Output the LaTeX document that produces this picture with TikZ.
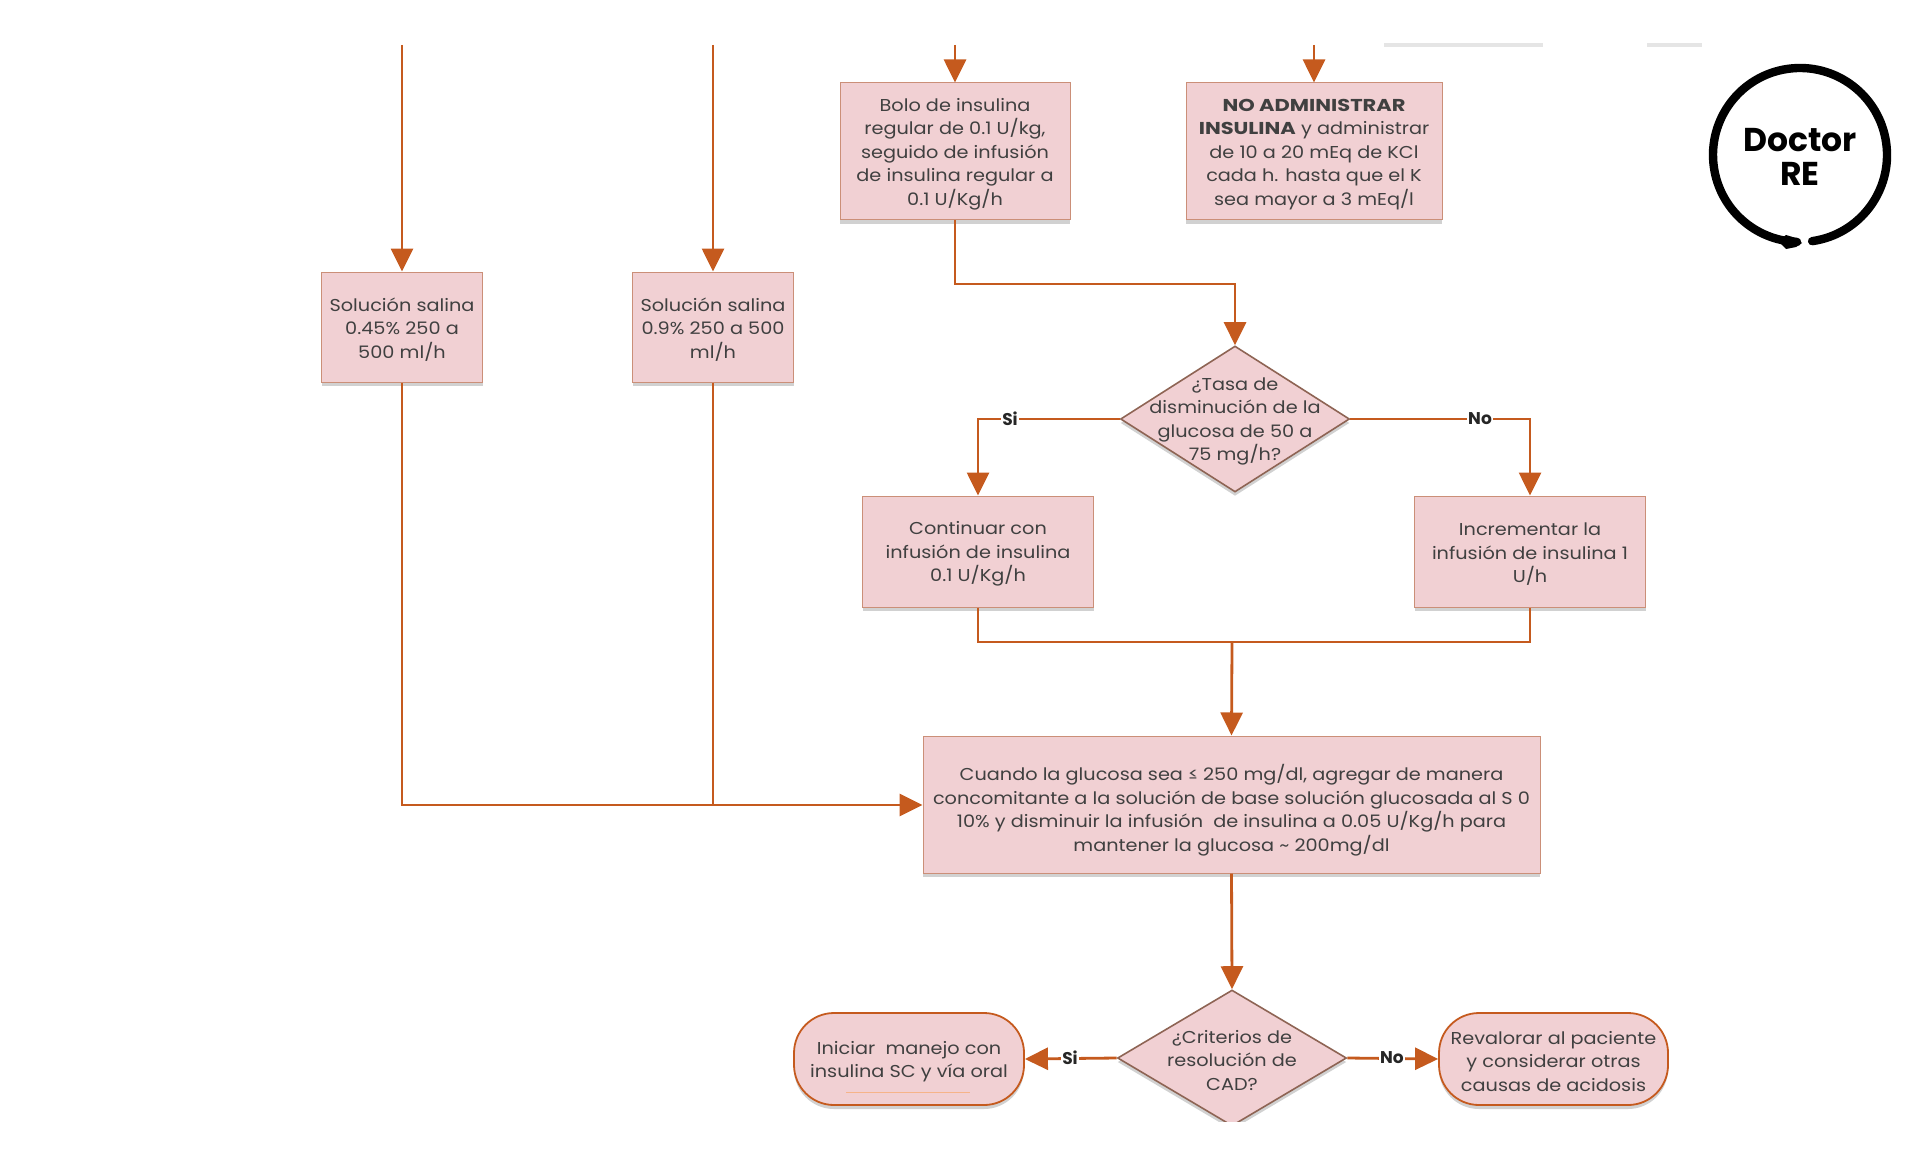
\documentclass[tikz,border=0pt]{standalone}
\usepackage{fontspec}
\setmainfont[FakeStretch=1.12,BoldFeatures={FakeStretch=1.22}]{Poppins}
\newfontfamily\plainpop{Poppins}
\usetikzlibrary{arrows.meta,shapes.geometric,shadows}
\newcommand{\lft}{\rule{0pt}{9pt}}
\newcommand{\lftb}{\rule{0pt}{14pt}}
\definecolor{boxfill}{HTML}{F1D0D3}
\definecolor{boxline}{HTML}{CB8F78}
\definecolor{flow}{HTML}{C55A1E}
\definecolor{ink}{HTML}{404040}
\tikzset{
  x=0.5pt,y=-0.5pt,
  softshadow/.style={drop shadow={shadow xshift=0pt,shadow yshift=-2pt,opacity=.3,fill=black!60}},
  txt/.style={font=\fontsize{8.6}{11.75}\selectfont,text=ink,align=center},
  pbox/.style 2 args={draw=boxline,line width=.5pt,fill=boxfill,softshadow,inner sep=0pt,
    minimum width=#1*0.5pt,minimum height=#2*0.5pt,txt},
  term/.style 2 args={pbox={#1}{#2},draw=flow,line width=.9pt,rounded corners=20pt},
  decide/.style 2 args={diamond,draw=boxline!70!black,line width=.8pt,fill=boxfill,softshadow,inner sep=0pt,
    minimum width=#1*0.5pt,minimum height=#2*0.5pt},
  conn/.style={draw=flow,line width=1.4pt},
  arr/.style={conn,-{Triangle[length=11.5pt,width=11pt]}},
  tag/.style={font=\plainpop\fontsize{8.5}{10}\selectfont\bfseries,text=black!85,fill=white,inner sep=.6pt},
}
\begin{document}
\begin{tikzpicture}
\useasboundingbox (0,0) rectangle (1920,1166);

% free ends at the cut top edge
\coordinate (t1) at (402,45);
\coordinate (t2) at (713,45);
\coordinate (t3) at (955,45);
\coordinate (t4) at (1314,45);
\coordinate (j1) at (1235,284);
\coordinate (j2) at (1232,642);
\coordinate (j3) at (713,805);
\coordinate (j4) at (402,805);

% faint smears along the cut edge
\fill[black!10] (1384,43.5) rectangle (1543,47);
\fill[black!10] (1647,43.5) rectangle (1702,47);

\node[pbox={230}{137}] (bolo) at (955,151.5) {\lft Bolo de insulina\\regular de 0.1 U/kg,\\seguido de infusión\\de insulina regular a\\0.1 U/Kg/h};
\node[pbox={256}{137}] (noadm) at (1314,151.5) {\lft\textbf{NO ADMINISTRAR}\\\textbf{INSULINA} y administrar\\de 10 a 20 mEq de KCl\\cada h. hasta que el K\\sea mayor a 3 mEq/l};
\node[pbox={161}{110}] (sal1) at (402,327) {\lft Solución salina\\0.45\% 250 a\\500 ml/h};
\node[pbox={161}{110}] (sal2) at (713,327) {\lft Solución salina\\0.9\% 250 a 500\\ml/h};
\node[decide={229}{146},label={[txt]center:\lft ¿Tasa de\\disminución de la\\glucosa de 50 a\\75 mg/h?}] (d1) at (1235,419) {};
\node[pbox={231}{111}] (cont) at (978,551.5) {\lft Continuar con\\infusión de insulina\\0.1 U/Kg/h};
\node[pbox={231}{111}] (incr) at (1530,551.5) {\lft Incrementar la\\infusión de insulina 1\\U/h};
\node[pbox={617}{137}] (cuando) at (1231.5,804.5) {\lftb Cuando la glucosa sea ≤ 250 mg/dl, agregar de manera\\concomitante a la solución de base solución glucosada al S 0\\10\% y disminuir la infusión\ \ de insulina a 0.05 U/Kg/h para\\mantener la glucosa \textasciitilde\ 200mg/dl};
\node[decide={229}{136},label={[txt]center:\lft ¿Criterios de\\resolución de\\CAD?}] (d2) at (1232,1058) {};
\node[term={230}{92}] (ini) at (909,1059) {\lft Iniciar\ \ manejo con\\insulina SC y vía oral};
\node[term={229}{92}] (rev) at (1553.5,1059) {\lft Revalorar al paciente\\y considerar otras\\causas de acidosis};

% pale mark under the text of the left terminator
\draw[draw=orange!35!boxfill,line width=.5pt] (846,1092) -- (970,1092);

% cut the lower diamond at the page edge of the source
\fill[white] (1100,1122) rectangle (1360,1140);

\draw[arr] (t1) -- (sal1.north);
\draw[arr] (t2) -- (sal2.north);
\draw[arr] (t3) -- (bolo.north);
\draw[arr] (t4) -- (noadm.north);
\draw[arr] (bolo.south) |- (j1) -- (d1.north);
\draw[arr] (d1.west) -| (cont.north);
\draw[arr] (d1.east) -| (incr.north);
\draw[conn] (cont.south) |- (j2) -| (incr.south);
\draw[arr] (j2) -- (cuando.north);
\draw[conn] (sal1.south) -- (j4) -- (j3);
\draw[conn] (sal2.south) -- (j3);
\draw[arr] (j3) -- (cuando.west |- j3);
\draw[arr] (cuando.south) -- (d2.north);
\draw[arr] (d2.west) -- (ini.east);
\draw[arr] (d2.east) -- (rev.west);

\node[tag] (si1) at (1010,419) {Si};
\node[tag] (no1) at (1480,419) {No};
\node[tag] (si2) at (1070,1058) {Si};
\node[tag] (no2) at (1392,1058) {No};

% logo
\begin{scope}[shift={(1800,155)},x=1pt,y=1pt]
  \draw[black,line width=4.2pt,line cap=round] (-82:43.5) arc[start angle=-82,delta angle=350,radius=43.5pt];
  \fill[black] (-11,-43) -- (-7,-40) -- (-2,-41.5) -- (1,-44) -- (-2,-46) -- (-7,-47) -- cycle;
\end{scope}
\node[font=\plainpop\fontsize{16.5}{16}\selectfont\bfseries,text=black,align=center,inner sep=0pt] (logo) at (1800,157) {Doctor\\[1pt]RE};
\end{tikzpicture}
\end{document}
